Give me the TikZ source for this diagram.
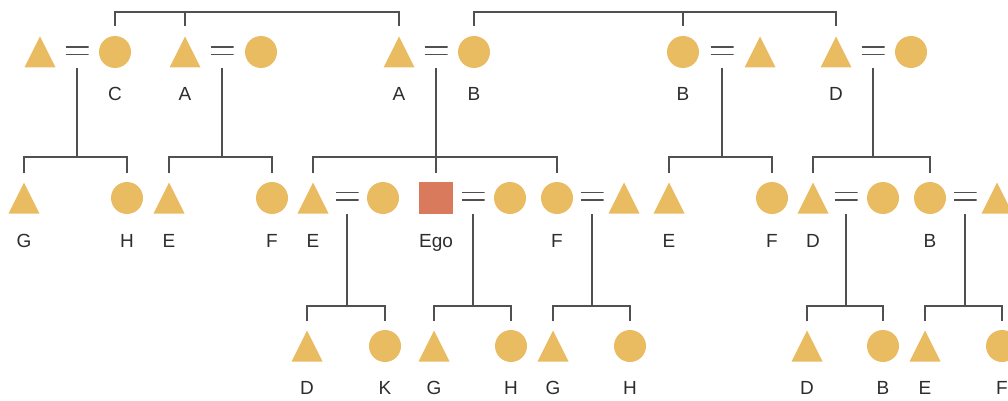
\documentclass[tikz,border=0pt]{standalone}
\usepackage{fontspec}
\setmainfont{Liberation Sans}
\definecolor{gold}{RGB}{234,188,98}
\definecolor{egocol}{RGB}{218,122,92}
\definecolor{linec}{RGB}{80,80,80}
\definecolor{textc}{RGB}{45,45,45}
\begin{document}
\begin{tikzpicture}[x=1pt,y=-1pt,
  tri/.style={minimum width=31pt,minimum height=31pt,inner sep=0pt,
    path picture={\fill[gold] (path picture bounding box.south west) --
      (path picture bounding box.south east) -- (path picture bounding box.north) -- cycle;}},
  cir/.style={circle,fill=gold,minimum size=32pt,inner sep=0pt},
  egobox/.style={rectangle,fill=egocol,minimum width=34pt,minimum height=32pt,inner sep=0pt},
  marr/.style={minimum width=23pt,minimum height=8pt,inner sep=0pt,
    path picture={\draw[linec,line width=1.3pt]
      (path picture bounding box.north west) -- (path picture bounding box.north east)
      (path picture bounding box.south west) -- (path picture bounding box.south east);}},
  lbl/.style={anchor=base,inner sep=0pt,text=textc,font=\fontsize{19}{22}\selectfont},
  ln/.style={draw=linec,line width=1.3pt},
  dropup/.style={yshift=9pt}]
\useasboundingbox (0,0) rectangle (1008,401);
\clip (0,0) rectangle (1008,401);

% ---- first generation (couples) ----
\node[tri] (t1) at (40,52) {};
\node[marr] (e1) at (77,51) {};
\node[cir] (c1) at (115,52) {};
\node[tri] (t2) at (185,52) {};
\node[marr] (e2) at (222,51) {};
\node[cir] (c2) at (261,52) {};
\node[tri] (t3) at (399,52) {};
\node[marr] (e3) at (436,51) {};
\node[cir] (c3) at (474,52) {};
\node[cir] (c4) at (683,52) {};
\node[marr] (e4) at (722,51) {};
\node[tri] (t4) at (760,52) {};
\node[tri] (t5) at (836,52) {};
\node[marr] (e5) at (873,51) {};
\node[cir] (c5) at (911,52) {};

\node[lbl] (lc1) at (115,100) {C};
\node[lbl] (lt2) at (185,100) {A};
\node[lbl] (lt3) at (399,100) {A};
\node[lbl] (lc3) at (474,100) {B};
\node[lbl] (lc4) at (683,100) {B};
\node[lbl] (lt5) at (836,100) {D};

% sibling bars above the first generation
\coordinate (ta) at (185,12);
\coordinate (tb) at (683,12);
\draw[ln] ([yshift=10pt]c1.north) |- (ta) -| ([yshift=10pt]t3.north);
\draw[ln] ([yshift=10pt]t2.north) -- (ta);
\draw[ln] ([yshift=10pt]c3.north) |- (tb) -| ([yshift=10pt]t5.north);
\draw[ln] ([yshift=10pt]c4.north) -- (tb);

% ---- second generation ----
\node[tri] (g2a) at (24,198) {};
\node[cir] (g2b) at (127,198) {};
\node[tri] (g2c) at (169,198) {};
\node[cir] (g2d) at (272,198) {};
\node[tri] (g2e) at (313,198) {};
\node[marr] (f1) at (347,196) {};
\node[cir] (g2f) at (383,198) {};
\node[egobox] (ego) at (436,198) {};
\node[marr] (f2) at (473,196) {};
\node[cir] (g2g) at (510,198) {};
\node[cir] (g2h) at (557,198) {};
\node[marr] (f3) at (592,196) {};
\node[tri] (g2i) at (624,198) {};
\node[tri] (g2j) at (669,198) {};
\node[cir] (g2k) at (772,198) {};
\node[tri] (g2l) at (813,198) {};
\node[marr] (f4) at (846,196) {};
\node[cir] (g2m) at (883,198) {};
\node[cir] (g2n) at (930,198) {};
\node[marr] (f5) at (965,196) {};
\node[tri] (g2o) at (997,198) {};

\node[lbl] (l2a) at (24,247) {G};
\node[lbl] (l2b) at (127,247) {H};
\node[lbl] (l2c) at (169,247) {E};
\node[lbl] (l2d) at (272,247) {F};
\node[lbl] (l2e) at (313,247) {E};
\node[lbl] (lego) at (436,247) {Ego};
\node[lbl] (l2h) at (557,247) {F};
\node[lbl] (l2j) at (669,247) {E};
\node[lbl] (l2k) at (772,247) {F};
\node[lbl] (l2l) at (813,247) {D};
\node[lbl] (l2n) at (930,247) {B};

% descent from the first-generation couples
\coordinate (s1) at (77,157);
\coordinate (s2) at (222,157);
\coordinate (s3) at (436,157);
\coordinate (s4) at (722,157);
\coordinate (s5) at (873,157);
\draw[ln] (e1 |- t1.south) -- (s1);
\draw[ln] ([dropup]g2a.north) |- (s1) -| ([dropup]g2b.north);
\draw[ln] (e2 |- t2.south) -- (s2);
\draw[ln] ([dropup]g2c.north) |- (s2) -| ([dropup]g2d.north);
\draw[ln] (e3 |- t3.south) -- ([dropup]ego.north);
\draw[ln] ([dropup]g2e.north) |- (s3) -| ([dropup]g2h.north);
\draw[ln] (e4 |- t4.south) -- (s4);
\draw[ln] ([dropup]g2j.north) |- (s4) -| ([dropup]g2k.north);
\draw[ln] (e5 |- t5.south) -- (s5);
\draw[ln] ([dropup]g2l.north) |- (s5) -| ([dropup]g2n.north);

% ---- third generation ----
\node[tri] (g3a) at (307,346) {};
\node[cir] (g3b) at (385,346) {};
\node[tri] (g3c) at (434,346) {};
\node[cir] (g3d) at (511,346) {};
\node[tri] (g3e) at (553,346) {};
\node[cir] (g3f) at (630,346) {};
\node[tri] (g3g) at (807,346) {};
\node[cir] (g3h) at (883,346) {};
\node[tri] (g3i) at (925,346) {};
\node[cir] (g3j) at (1002,346) {};

\node[lbl] (l3a) at (307,394) {D};
\node[lbl] (l3b) at (385,394) {K};
\node[lbl] (l3c) at (434,394) {G};
\node[lbl] (l3d) at (511,394) {H};
\node[lbl] (l3e) at (553,394) {G};
\node[lbl] (l3f) at (630,394) {H};
\node[lbl] (l3g) at (807,394) {D};
\node[lbl] (l3h) at (883,394) {B};
\node[lbl] (l3i) at (925,394) {E};
\node[lbl] (l3j) at (1002,394) {F};

% descent from the second-generation couples
\coordinate (u1) at (347,306);
\coordinate (u2) at (473,306);
\coordinate (u3) at (592,306);
\coordinate (u4) at (846,306);
\coordinate (u5) at (965,306);
\draw[ln] (f1 |- g2e.south) -- (u1);
\draw[ln] ([dropup]g3a.north) |- (u1) -| ([dropup]g3b.north);
\draw[ln] (f2 |- ego.south) -- (u2);
\draw[ln] ([dropup]g3c.north) |- (u2) -| ([dropup]g3d.north);
\draw[ln] (f3 |- g2h.south) -- (u3);
\draw[ln] ([dropup]g3e.north) |- (u3) -| ([dropup]g3f.north);
\draw[ln] (f4 |- g2l.south) -- (u4);
\draw[ln] ([dropup]g3g.north) |- (u4) -| ([dropup]g3h.north);
\draw[ln] (f5 |- g2o.south) -- (u5);
\draw[ln] ([dropup]g3i.north) |- (u5) -| ([dropup]g3j.north);
\end{tikzpicture}
\end{document}
